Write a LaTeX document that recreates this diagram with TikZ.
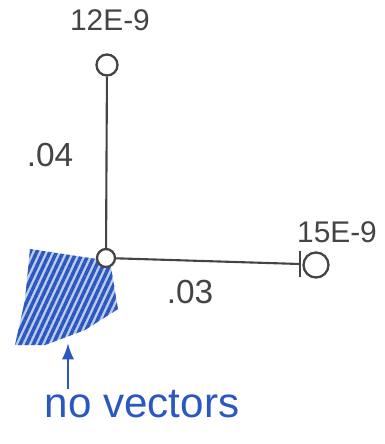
\documentclass[tikz,border=0pt]{standalone}
\usepackage{fontspec}
\setmainfont{Liberation Sans}
\usepackage{tikz}
\usetikzlibrary{arrows.meta,patterns.meta,calc}
\usepackage{xcolor}
\definecolor{ink}{HTML}{444444}
\definecolor{pen}{HTML}{2A58C0}

\tikzset{
  vtx/.style={draw=ink, circle, line width=1.3pt, inner sep=0pt, fill=white},
  lbl/.style={ink, font=\fontsize{17}{19}\selectfont},
  wire/.style={ink, line width=1.2pt}
}

\begin{document}
\begin{tikzpicture}[>=Latex]
    \useasboundingbox (0,0) rectangle (7.7,8.88);
    % scribbled area, no vectors here
    \fill[pattern={Lines[angle=65,distance=3.4pt,line width=2pt]}, pattern color=pen]
      (0.6,3.9) -- (2.2,3.66) -- (2.36,2.7) -- (1.7,2.28) -- (0.9,1.98) -- (0.3,1.98) -- (0.5,2.88) -- cycle;
    \fill[pen, opacity=0.3]
      (0.6,3.9) -- (2.2,3.66) -- (2.36,2.7) -- (1.7,2.28) -- (0.9,1.98) -- (0.3,1.98) -- (0.5,2.88) -- cycle;
    % vertices
    \node[vtx, minimum size=0.42cm] (top) at (2.14,7.58) {};
    \node[vtx, minimum size=0.36cm] (origin) at (2.12,3.72) {};
    \node[vtx, minimum size=0.5cm] (right) at (6.32,3.58) {};
    \coordinate (tick) at (6.0,3.6);
    % edges
    \draw[wire] (top) -- (origin);
    \draw[wire] (origin) -- (tick);
    \draw[wire] ($(tick)+(0,0.26)$) -- ($(tick)-(0,0.26)$);
    % labels
    \node[lbl] (toplbl) at (2.2,8.48) {12E-9};
    \node[lbl] (rightlbl) at (6.74,4.24) {15E-9};
    \node[lbl, font=\fontsize{19}{20}\selectfont] (vlbl) at (1.0,5.78) {.04};
    \node[lbl, font=\fontsize{19}{20}\selectfont] (hlbl) at (3.8,3.04) {.03};
    % note
    \node[pen, font=\fontsize{24}{26}\selectfont] (note) at (2.84,0.8) {no vectors};
    \coordinate (tail) at (1.36,1.1);
    \coordinate (mark) at (1.36,2.02);
    \draw[->, pen, line width=1.4pt] (tail) -- (mark);
  \end{tikzpicture}
\end{document}
